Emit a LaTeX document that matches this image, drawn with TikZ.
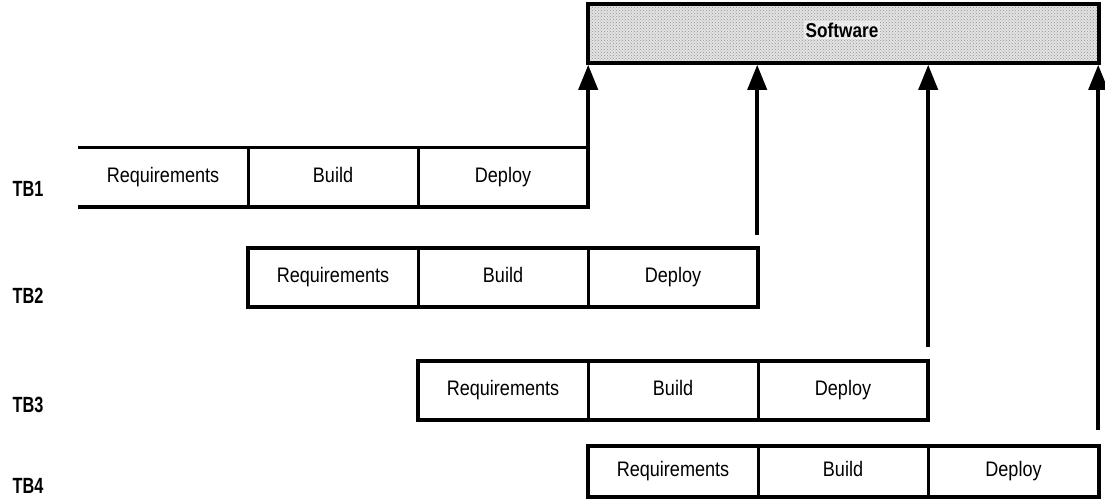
\documentclass[tikz,border=0pt]{standalone}
\usepackage{fontspec}
\setmainfont[FakeStretch=0.86]{Liberation Sans}
\newfontfamily\tbfont[FakeStretch=0.74]{Liberation Sans Bold}
\usetikzlibrary{arrows.meta,patterns,calc}

\tikzset{
  stage/.style={rectangle, inner sep=0pt, minimum width=170pt, minimum height=59pt,
                text height=16pt, text depth=6pt,
                font=\fontsize{21}{24}\selectfont},
  rowline/.style={line width=3.6pt, line join=miter},
  divider/.style={line width=3pt},
  tblabel/.style={font=\tbfont\fontsize{22}{24}\selectfont, inner sep=0pt},
  feed/.style={line width=3.8pt, -{Triangle[width=19pt,length=25pt]}},
  swbox/.style={rectangle, draw, line width=3.6pt, inner sep=0pt,
                minimum width=511pt, minimum height=59pt,
                preaction={fill=gray!22},
                pattern=crosshatch dots, pattern color=gray!85},
}

\begin{document}
\begin{tikzpicture}[x=1pt, y=-1pt]
\useasboundingbox (0,0) rectangle (1105,501);

% shared software product
\node[swbox] (sw) at (843.5,33.5) {};
\node[fill=white, fill opacity=0.5, text opacity=1, inner sep=1.5pt,
      font=\bfseries\fontsize{20}{24}\selectfont] (swt) at (842,30) {Software};

% TB1 (open on the left)
\node[stage] (r1) at (163,177) {Requirements};
\node[stage] (b1) at (333,177) {Build};
\node[stage] (d1) at (503,177) {Deploy};
\draw[rowline] (r1.north west) -- (d1.north east) -- (d1.south east) -- (r1.south west);
\draw[divider] (r1.north east) -- (r1.south east);
\draw[divider] (b1.north east) -- (b1.south east);

% TB2
\node[stage] (r2) at (333,277.5) {Requirements};
\node[stage] (b2) at (503,277.5) {Build};
\node[stage] (d2) at (673,277.5) {Deploy};
\draw[rowline] (r2.north west) rectangle (d2.south east);
\draw[divider] (r2.north east) -- (r2.south east);
\draw[divider] (b2.north east) -- (b2.south east);

% TB3
\node[stage] (r3) at (503,390.5) {Requirements};
\node[stage] (b3) at (673,390.5) {Build};
\node[stage] (d3) at (843,390.5) {Deploy};
\draw[rowline] (r3.north west) rectangle (d3.south east);
\draw[divider] (r3.north east) -- (r3.south east);
\draw[divider] (b3.north east) -- (b3.south east);

% TB4
\node[stage, minimum height=51pt] (r4) at (673,471.5) {Requirements};
\node[stage, minimum height=51pt] (b4) at (843,471.5) {Build};
\node[stage, minimum height=51pt, minimum width=171pt] (d4) at (1013.5,471.5) {Deploy};
\draw[rowline] (r4.north west) rectangle (d4.south east);
\draw[divider] (r4.north east) -- (r4.south east);
\draw[divider] (b4.north east) -- (b4.south east);

% row labels
\node[tblabel] (l1) at (28,189) {TB1};
\node[tblabel] (l2) at (28,296) {TB2};
\node[tblabel] (l3) at (28,405) {TB3};
\node[tblabel] (l4) at (28,486) {TB4};

% deliveries into the software product
\coordinate (s2) at ($(d2.north east)+(-1,-13)$);
\coordinate (s3) at ($(d3.north east)+(0,-14)$);
\coordinate (s4) at ($(d4.north east)+(-1,-16)$);
\draw[feed] (d1.north east) -- (d1.north east |- sw.south);
\draw[feed] (s2) -- (s2 |- sw.south);
\draw[feed] (s3) -- (s3 |- sw.south);
\draw[feed] (s4) -- (s4 |- sw.south);
\end{tikzpicture}
\end{document}
